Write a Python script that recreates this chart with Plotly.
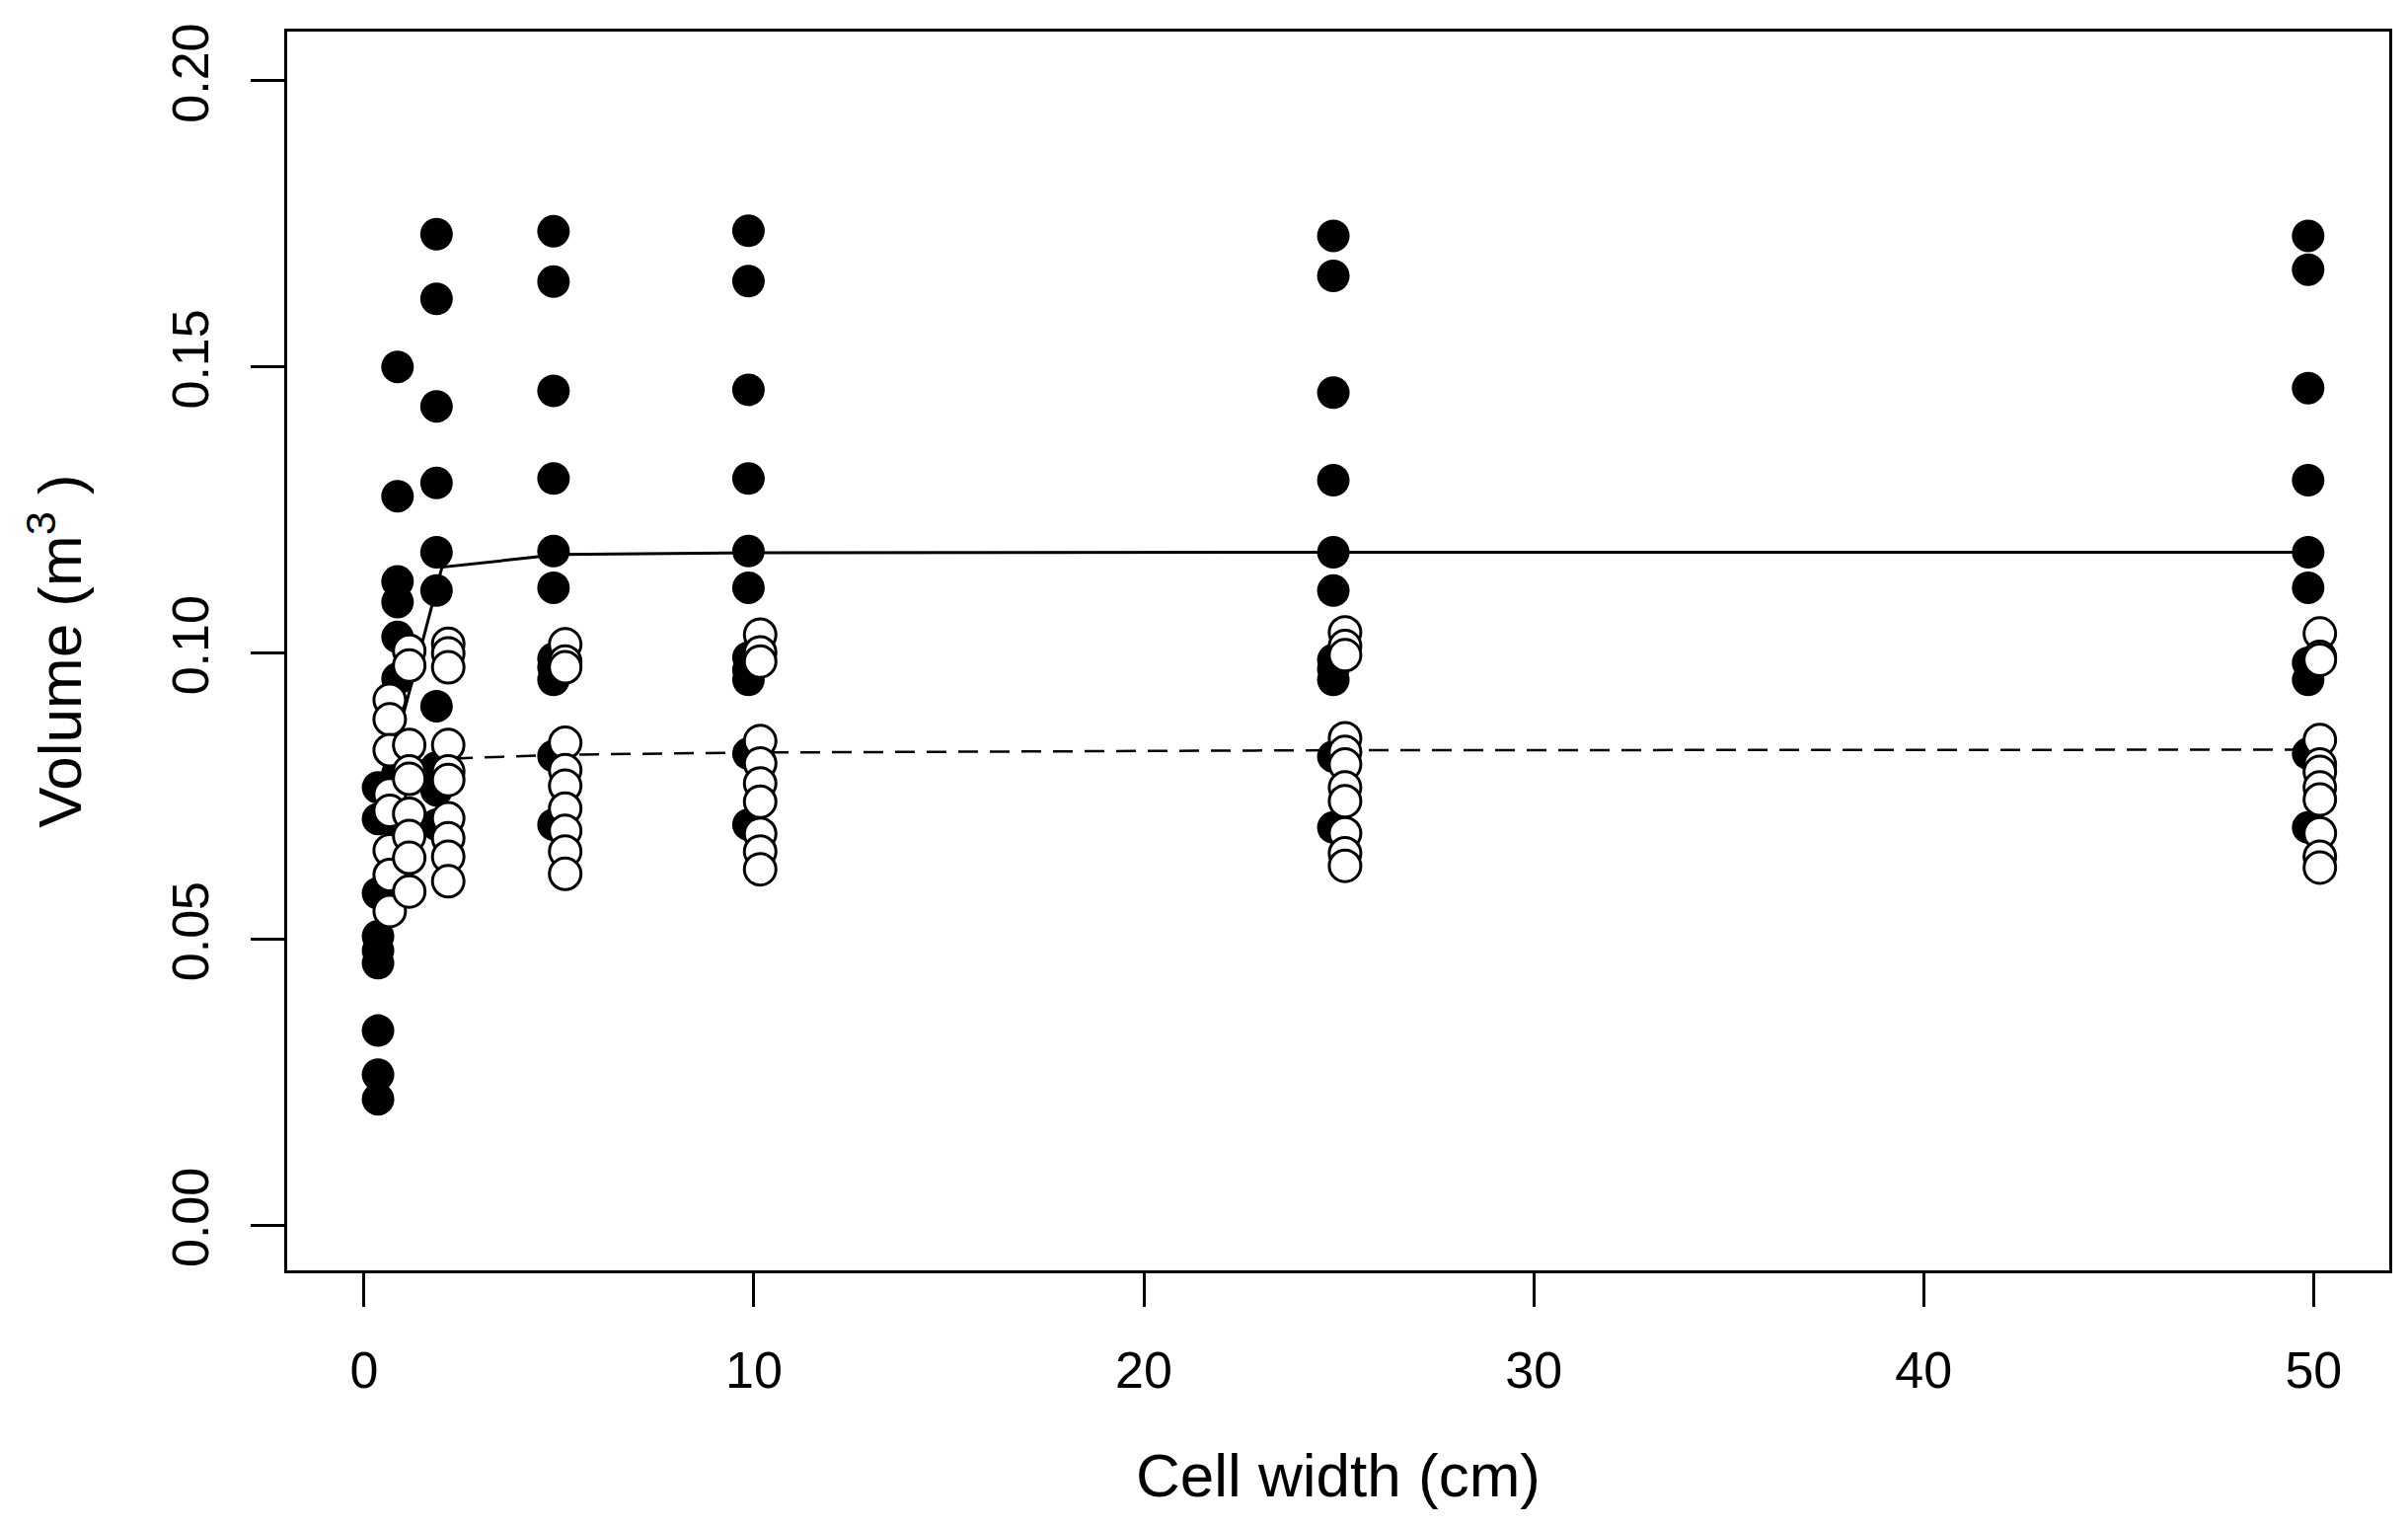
import plotly.graph_objects as go

# cell widths (cm)
cell_widths = [0.5, 1, 2, 5, 10, 25, 50]

# volumes (m3), filled points (one list per cell width)
filled_0_5 = [0.0765, 0.0710, 0.0580, 0.0505, 0.0480, 0.0458, 0.0340, 0.0263, 0.0220]
filled_1 = [0.1500, 0.1274, 0.1125, 0.1089, 0.1028, 0.0955, 0.0790, 0.0700]
filled_2 = [0.1732, 0.1619, 0.1431, 0.1297, 0.1176, 0.1109, 0.0907, 0.0800, 0.0760, 0.0700]
filled_5 = [0.1737, 0.1649, 0.1458, 0.1305, 0.1178, 0.1114, 0.0990, 0.0975, 0.0953, 0.0820, 0.0700]
filled_10 = [0.1738, 0.1650, 0.1460, 0.1305, 0.1178, 0.1114, 0.0992, 0.0970, 0.0953, 0.0824, 0.0700]
filled_25 = [0.1729, 0.1659, 0.1455, 0.1302, 0.1176, 0.1109, 0.0988, 0.0972, 0.0953, 0.0819, 0.0695]
filled_50 = [0.1729, 0.1670, 0.1463, 0.1302, 0.1176, 0.1114, 0.0983, 0.0953, 0.0824, 0.0695]

# volumes (m3), open points
open_0_5 = [0.0918, 0.0884, 0.0830, 0.0753, 0.0724, 0.0655, 0.0612, 0.0549]
open_1 = [0.1004, 0.0978, 0.0839, 0.0793, 0.0780, 0.0719, 0.0680, 0.0642, 0.0583]
open_2 = [0.1016, 0.0999, 0.0975, 0.0839, 0.0793, 0.0778, 0.0711, 0.0676, 0.0644, 0.0601]
open_5 = [0.1015, 0.0985, 0.0975, 0.0843, 0.0795, 0.0768, 0.0728, 0.0689, 0.0653, 0.0614]
open_10 = [0.1032, 0.1001, 0.0985, 0.0846, 0.0807, 0.0772, 0.0740, 0.0684, 0.0653, 0.0622]
open_25 = [0.1036, 0.1012, 0.0996, 0.0851, 0.0827, 0.0805, 0.0765, 0.0741, 0.0685, 0.0650, 0.0628]
open_50 = [0.1034, 0.0993, 0.0988, 0.0848, 0.0805, 0.0792, 0.0765, 0.0744, 0.0685, 0.0644, 0.0625]

# mean lines
mean_filled = [0.049, 0.089, 0.1150, 0.1172, 0.1175, 0.1176, 0.1176]
mean_open = [0.074, 0.081, 0.0815, 0.0822, 0.0826, 0.0830, 0.0831]

filled_groups = [filled_0_5, filled_1, filled_2, filled_5, filled_10, filled_25, filled_50]
open_groups = [open_0_5, open_1, open_2, open_5, open_10, open_25, open_50]

# points are shifted a little either side of the cell width
fx, fy, ox, oy = [], [], [], []
for w, vals in zip(cell_widths, filled_groups):
    fx += [w - 0.14] * len(vals)
    fy += vals
for w, vals in zip(cell_widths, open_groups):
    ox += [w + 0.16] * len(vals)
    oy += vals

fig = go.Figure()
fig.add_trace(go.Scatter(x=fx, y=fy, mode="markers",
                         marker=dict(size=33, color="black", line=dict(width=0))))
fig.add_trace(go.Scatter(x=cell_widths, y=mean_filled, mode="lines",
                         line=dict(color="black", width=3)))
fig.add_trace(go.Scatter(x=cell_widths, y=mean_open, mode="lines",
                         line=dict(color="black", width=2.5, dash="20px,12px")))
fig.add_trace(go.Scatter(x=ox, y=oy, mode="markers",
                         marker=dict(size=32, color="white", line=dict(width=3, color="black"))))

font = dict(family="Liberation Sans, Arial, sans-serif", size=52, color="black")

fig.update_layout(
    width=2440, height=1546,
    margin=dict(l=283, r=27, t=24, b=267),
    plot_bgcolor="white", paper_bgcolor="white",
    showlegend=False,
    font=font,
)
fig.update_xaxes(
    range=[-1.97, 51.94], tickvals=[0, 10, 20, 30, 40, 50],
    showgrid=False, zeroline=False,
    showline=True, mirror=True, linecolor="black", linewidth=2.5,
    ticks="outside", ticklen=34, tickwidth=2.5, tickcolor="black",
    ticklabelstandoff=20,
    title=dict(text="Cell width (cm)", standoff=57),
)
fig.update_yaxes(
    range=[-0.0079, 0.2086], tickvals=[0, 0.05, 0.10, 0.15, 0.20],
    ticktext=["0.00", "0.05", "0.10", "0.15", "0.20"], tickangle=-90,
    showgrid=False, zeroline=False,
    showline=True, mirror=True, linecolor="black", linewidth=2.5,
    ticks="outside", ticklen=34, tickwidth=2.5, tickcolor="black",
    ticklabelstandoff=22,
    title=dict(text="Volume (m<sup>3</sup> )", standoff=62),
)

fig.write_html("out.html")
